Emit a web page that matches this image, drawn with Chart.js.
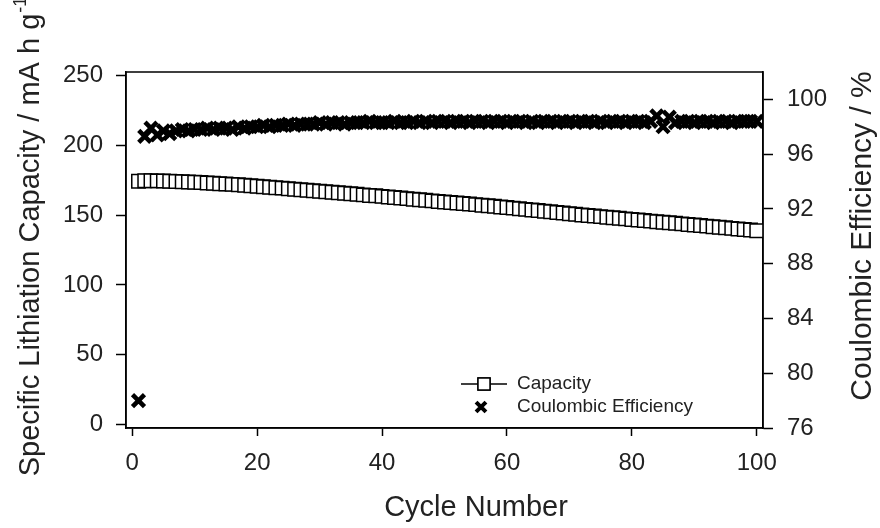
<!DOCTYPE html>
<html>
<head>
<meta charset="utf-8">
<script src="https://cdn.jsdelivr.net/npm/chart.js@4/dist/chart.umd.min.js"></script>
<style>
  html, body { margin: 0; padding: 0; background: #fff; }
  #wrap { width: 880px; height: 528px; }
</style>
</head>
<body>
<div id="wrap"><canvas id="c" width="880" height="528"></canvas></div>
<script>
// cycle numbers 1..100
const cycles = [
  1, 2, 3, 4, 5, 6, 7, 8, 9, 10, 11, 12, 13, 14, 15, 16, 17, 18, 19, 20,
  21, 22, 23, 24, 25, 26, 27, 28, 29, 30, 31, 32, 33, 34, 35, 36, 37, 38, 39, 40,
  41, 42, 43, 44, 45, 46, 47, 48, 49, 50, 51, 52, 53, 54, 55, 56, 57, 58, 59, 60,
  61, 62, 63, 64, 65, 66, 67, 68, 69, 70, 71, 72, 73, 74, 75, 76, 77, 78, 79, 80,
  81, 82, 83, 84, 85, 86, 87, 88, 89, 90, 91, 92, 93, 94, 95, 96, 97, 98, 99, 100
];
// specific lithiation capacity, mA h g-1
const capacity = [
  174.3, 174.6, 174.6, 174.5, 174.4, 174.3, 174.1, 173.9, 173.7, 173.5,
  173.3, 173.0, 172.8, 172.5, 172.3, 172.0, 171.7, 171.4, 171.0, 170.7,
  170.3, 170.0, 169.6, 169.3, 168.9, 168.5, 168.2, 167.8, 167.4, 167.1,
  166.7, 166.4, 166.0, 165.7, 165.3, 164.9, 164.5, 164.1, 163.8, 163.4,
  163.0, 162.6, 162.2, 161.8, 161.4, 161.0, 160.6, 160.2, 159.8, 159.4,
  159.0, 158.6, 158.3, 157.9, 157.5, 157.1, 156.7, 156.3, 155.8, 155.4,
  155.0, 154.6, 154.1, 153.7, 153.3, 152.8, 152.4, 151.9, 151.5, 151.0,
  150.6, 150.1, 149.7, 149.3, 148.9, 148.5, 148.1, 147.7, 147.3, 146.9,
  146.5, 146.1, 145.7, 145.3, 144.9, 144.5, 144.1, 143.7, 143.3, 142.9,
  142.5, 142.1, 141.7, 141.3, 140.9, 140.5, 140.1, 139.7, 139.3, 138.8
];
// coulombic efficiency, %
const efficiency = [
  78.0, 97.3, 97.9, 97.4, 97.7, 97.5, 97.7, 97.8, 97.7, 97.8,
  97.8, 97.9, 97.8, 97.9, 97.9, 97.8, 98.0, 97.9, 98.0, 98.0,
  98.1, 98.0, 98.1, 98.1, 98.2, 98.1, 98.2, 98.2, 98.2, 98.3,
  98.2, 98.3, 98.3, 98.2, 98.3, 98.3, 98.3, 98.4, 98.3, 98.3,
  98.3, 98.4, 98.3, 98.3, 98.4, 98.3, 98.4, 98.3, 98.4, 98.4,
  98.3, 98.4, 98.4, 98.3, 98.4, 98.4, 98.3, 98.4, 98.4, 98.3,
  98.4, 98.4, 98.3, 98.4, 98.3, 98.4, 98.4, 98.3, 98.4, 98.4,
  98.3, 98.4, 98.4, 98.3, 98.4, 98.3, 98.4, 98.4, 98.3, 98.4,
  98.4, 98.3, 98.4, 98.8, 98.0, 98.7, 98.3, 98.4, 98.4, 98.3,
  98.4, 98.4, 98.3, 98.4, 98.4, 98.3, 98.4, 98.4, 98.4, 98.4
];
const xTicks = [0, 20, 40, 60, 80, 100];
const capTicks = [0, 50, 100, 150, 200, 250];
const ceTicks = [76, 80, 84, 88, 92, 96, 100];
const legendLabels = ['Capacity', 'Coulombic Efficiency'];
const xTitle = 'Cycle Number';
const leftTitle = 'Specific Lithiation Capacity / mA h g';
const rightTitle = 'Coulombic Efficiency / %';

const FONT = '"Liberation Sans", Arial, Helvetica, sans-serif';
const ink = '#000';
const textInk = '#222';

const axisGrid = (len) => ({ display: true, drawOnChartArea: false, drawTicks: true, tickLength: len, tickColor: ink, tickWidth: 1.5 });
const axisBorder = { display: true, color: ink, width: 1.5 };
const tickFont = { family: FONT, size: 24 };

// box around the plot area
const frame = {
  id: 'frame',
  afterDatasetsDraw(chart) {
    const { ctx, chartArea: a } = chart;
    ctx.save();
    ctx.strokeStyle = ink;
    ctx.lineWidth = 1.5;
    ctx.strokeRect(a.left, a.top, a.right - a.left, a.bottom - a.top);
    ctx.restore();
  }
};

// axis titles; both vertical ones read bottom to top
const titles = {
  id: 'titles',
  afterDraw(chart) {
    const { ctx } = chart;
    ctx.save();
    ctx.fillStyle = textInk;
    ctx.font = '29px ' + FONT;
    ctx.textAlign = 'center';
    ctx.textBaseline = 'middle';
    ctx.fillText(xTitle, 476, 508);

    ctx.save();
    ctx.translate(863, 236);
    ctx.rotate(-Math.PI / 2);
    ctx.font = '30px ' + FONT;
    ctx.fillText(rightTitle, 0, 0);
    ctx.restore();

    // left title with superscript -1
    ctx.save();
    ctx.translate(31, 0);
    ctx.rotate(-Math.PI / 2);
    ctx.font = '29px ' + FONT;
    ctx.textAlign = 'left';
    const w = ctx.measureText(leftTitle).width;
    ctx.font = '18px ' + FONT;
    const ws = ctx.measureText('-1').width;
    const start = -(237 + (w + ws) / 2);
    ctx.font = '29px ' + FONT;
    ctx.fillText(leftTitle, start, 0);
    ctx.font = '18px ' + FONT;
    ctx.fillText('-1', start + w + 1, -10);
    ctx.restore();
    ctx.restore();
  }
};

// legend inside the plot, lower right
const legendBox = {
  id: 'legendBox',
  afterDraw(chart) {
    const { ctx } = chart;
    const mx = 484, tx = 517, y1 = 384, y2 = 407;
    ctx.save();
    ctx.strokeStyle = ink;
    ctx.lineWidth = 1.5;
    ctx.beginPath();
    ctx.moveTo(461, y1);
    ctx.lineTo(507, y1);
    ctx.stroke();
    Chart.helpers.drawPoint(ctx, { pointStyle: 'rect', radius: 8.5, borderWidth: 1.5, rotation: 0 }, mx, y1);
    ctx.fillStyle = '#fff';
    ctx.fill();
    ctx.stroke();
    ctx.lineWidth = 4;
    Chart.helpers.drawPoint(ctx, { pointStyle: 'crossRot', radius: 7, borderWidth: 4, rotation: 0 }, mx - 3, y2);
    ctx.fillStyle = textInk;
    ctx.font = '19px ' + FONT;
    ctx.textBaseline = 'middle';
    ctx.fillText(legendLabels[0], tx, y1);
    ctx.fillText(legendLabels[1], tx, y2);
    ctx.restore();
  }
};

new Chart(document.getElementById('c').getContext('2d'), {
  type: 'line',
  data: {
    datasets: [
      {
        label: legendLabels[0],
        data: cycles.map((c, i) => ({ x: c, y: capacity[i] })),
        yAxisID: 'y',
        showLine: true,
        borderColor: ink,
        borderWidth: 1.5,
        pointStyle: 'rect',
        pointRadius: 9.5,
        pointBorderWidth: 1.5,
        pointBorderColor: ink,
        pointBackgroundColor: '#fff',
        tension: 0
      },
      {
        label: legendLabels[1],
        data: cycles.map((c, i) => ({ x: c, y: efficiency[i] })),
        yAxisID: 'y1',
        showLine: false,
        pointStyle: 'crossRot',
        pointRadius: 8.5,
        pointBorderWidth: 4.5,
        pointBorderColor: ink,
        pointBackgroundColor: ink
      }
    ]
  },
  options: {
    responsive: false,
    animation: false,
    events: [],
    layout: { padding: { top: 72, left: 0, right: 0, bottom: 0 } },
    plugins: { legend: { display: false }, tooltip: { enabled: false } },
    scales: {
      x: {
        type: 'linear', min: -1, max: 101,
        afterBuildTicks: (s) => { s.ticks = xTicks.map(v => ({ value: v })); },
        afterFit: (s) => { s.height = 100; },
        grid: axisGrid(8), border: axisBorder,
        ticks: { color: textInk, font: tickFont, padding: 13, maxRotation: 0 },
        title: { display: false }
      },
      y: {
        type: 'linear', position: 'left', min: -2.5, max: 252.5,
        afterBuildTicks: (s) => { s.ticks = capTicks.map(v => ({ value: v })); },
        afterFit: (s) => { s.width = 126; },
        grid: axisGrid(10), border: axisBorder,
        ticks: { color: textInk, font: tickFont, padding: 13 },
        title: { display: false }
      },
      y1: {
        type: 'linear', position: 'right', min: 76, max: 102,
        afterBuildTicks: (s) => { s.ticks = ceTicks.map(v => ({ value: v })); },
        afterFit: (s) => { s.width = 117; },
        grid: axisGrid(10), border: axisBorder,
        ticks: { color: textInk, font: tickFont, padding: 14 },
        title: { display: false }
      }
    }
  },
  plugins: [frame, titles, legendBox]
});
</script>
</body>
</html>
